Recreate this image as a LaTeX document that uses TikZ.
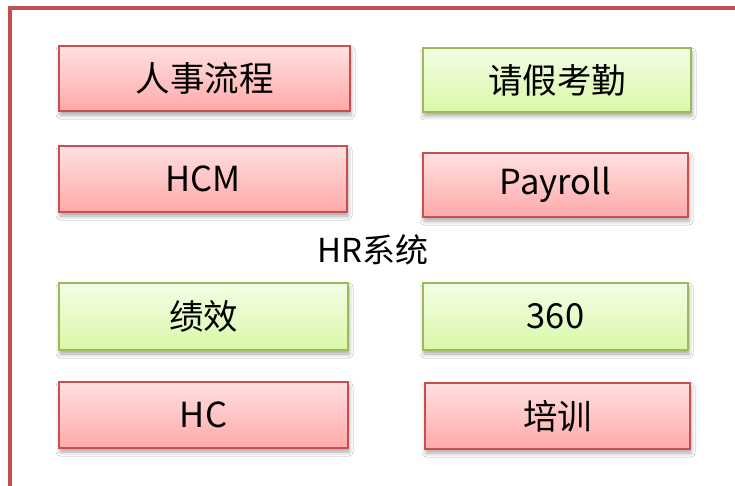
\documentclass[tikz,border=0pt]{standalone}
\usepackage{fontspec}
\setmainfont{Noto Sans CJK SC}
\usetikzlibrary{shadows.blur}
\definecolor{frameRed}{HTML}{C0504D}
\definecolor{redTop}{HTML}{FFE0E0}
\definecolor{redBot}{HTML}{FFA9A9}
\definecolor{redLine}{HTML}{C84F4F}
\definecolor{greenTop}{HTML}{F4FDE6}
\definecolor{greenBot}{HTML}{D9F8A8}
\definecolor{greenLine}{HTML}{9BBB59}
\tikzset{
  box/.style={rectangle, line width=1.8pt, inner sep=0pt, anchor=center,
    font=\fontsize{34.5}{40}\selectfont,
    blur shadow={shadow xshift=1pt, shadow yshift=-4pt, shadow blur radius=4pt, shadow opacity=35}},
  redbox/.style={box, draw=redLine, top color=redTop, bottom color=redBot},
  greenbox/.style={box, draw=greenLine, top color=greenTop, bottom color=greenBot},
  label/.style={font=\fontsize{33}{40}\selectfont, inner sep=0pt}
}
\begin{document}
\begin{tikzpicture}[x=1pt,y=-1pt]
\useasboundingbox (0,0) rectangle (735,486);
\fill[white] (0,0) rectangle (735,486);
\begin{scope}
\clip (0,0) rectangle (735,486);
\draw[frameRed, line width=4pt] (10,8.5) rectangle (745,487.5);
\end{scope}
\node[redbox, minimum width=291, minimum height=65] (rs) at (204.5,78.5) {人事流程};
\node[greenbox, minimum width=268, minimum height=64] (qj) at (557,80) {请假考勤};
\node[redbox, minimum width=288, minimum height=66] (hcm) at (203,179) {HCM};
\node[redbox, minimum width=265, minimum height=64] (pay) at (555.5,185) {Payroll};
\node[label] (hr) at (373,250) {HR系统};
\node[greenbox, minimum width=289, minimum height=67] (jx) at (203.5,316.5) {绩效};
\node[greenbox, minimum width=265, minimum height=67] (s360) at (555.5,316.5) {360};
\node[redbox, minimum width=289, minimum height=66] (hc) at (203.5,415) {HC};
\node[redbox, minimum width=265, minimum height=66] (px) at (557.5,416) {培训};
\end{tikzpicture}
\end{document}
